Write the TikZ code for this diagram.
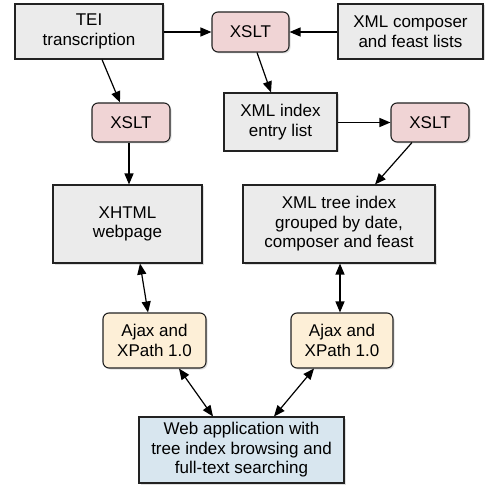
\documentclass[tikz,border=0pt]{standalone}
\usepackage{fontspec}
\setmainfont{Liberation Sans}
\usetikzlibrary{arrows.meta,shadows}
\definecolor{greyfill}{HTML}{EBEBEB}
\definecolor{xsltfill}{HTML}{F0D4D5}
\definecolor{ajaxfill}{HTML}{FDEFD7}
\definecolor{webfill}{HTML}{D8E6EF}
\definecolor{edge}{HTML}{222222}
\begin{document}
\begin{tikzpicture}[x=1pt,y=-1pt,
  base/.style={draw=edge,line width=1.1pt,inner sep=0pt,align=center,
    font=\fontsize{17}{19.5}\selectfont,
    drop shadow={shadow xshift=1.5pt,shadow yshift=-1.5pt,opacity=0.25}},
  databox/.style={base,rectangle,fill=greyfill},
  xsltbox/.style={base,rectangle,rounded corners=6pt,fill=xsltfill},
  ajaxbox/.style={base,rectangle,rounded corners=6pt,fill=ajaxfill},
  webbox/.style={base,rectangle,fill=webfill},
  conn/.style={draw=black,line width=1.2pt,-{Triangle[length=11pt,width=9pt]}},
  bconn/.style={draw=black,line width=1.2pt,{Triangle[length=11pt,width=9pt]}-{Triangle[length=11pt,width=9pt]}}]
\useasboundingbox (0,0) rectangle (492,486);
\fill[white] (0,0) rectangle (492,486);

\node[databox,minimum width=148pt,minimum height=55pt] (tei) at (89,31.5) {TEI\\transcription};
\node[xsltbox,minimum width=77pt,minimum height=40pt] (xt) at (250.5,32) {XSLT};
\node[databox,minimum width=145pt,minimum height=55pt] (comp) at (410.5,31.5) {XML composer\\and feast lists};
\node[xsltbox,minimum width=78pt,minimum height=39pt] (xl) at (131,122.5) {XSLT};
\node[databox,minimum width=113pt,minimum height=58pt] (idx) at (280.5,122) {XML index\\entry list};
\node[xsltbox,minimum width=78pt,minimum height=39pt] (xr) at (430,122.5) {XSLT};
\node[databox,minimum width=149pt,minimum height=78pt] (xh) at (127.5,224) {XHTML\\webpage};
\node[databox,minimum width=192pt,minimum height=78pt] (tree) at (339,224) {XML tree index\\grouped by date,\\composer and feast};
\node[ajaxbox,minimum width=103pt,minimum height=55pt] (al) at (154.5,340.5) {Ajax and\\XPath 1.0};
\node[ajaxbox,minimum width=102pt,minimum height=55pt] (ar) at (342,340.5) {Ajax and\\XPath 1.0};
\node[webbox,minimum width=205pt,minimum height=66pt] (web) at (241.5,450) {Web application with\\tree index browsing and\\full-text searching};

\draw[conn] (tei.east |- xt.west) -- (xt.west);
\draw[conn] (comp.west |- xt.east) -- (xt.east);
\draw[conn] ([xshift=6.5pt]xt.south) -- ([xshift=-9.5pt]idx.north);
\draw[conn] ([xshift=13pt]tei.south) -- ([xshift=-11pt]xl.north);
\draw[conn] ([xshift=-2pt]xl.south) -- ([xshift=1.5pt]xh.north);
\draw[conn] (idx.east |- xr.west) -- (xr.west);
\draw[conn] ([xshift=-18pt]xr.south) -- ([xshift=36pt]tree.north);
\draw[bconn] ([xshift=12.5pt]xh.south) -- ([xshift=-6.5pt]al.north);
\draw[bconn] ([xshift=1pt]tree.south) -- ([xshift=-2pt]ar.north);
\draw[bconn] ([xshift=24.5pt]al.south) -- ([xshift=-28.5pt]web.north);
\draw[bconn] ([xshift=-28pt]ar.south) -- ([xshift=32.5pt]web.north);
\end{tikzpicture}
\end{document}
